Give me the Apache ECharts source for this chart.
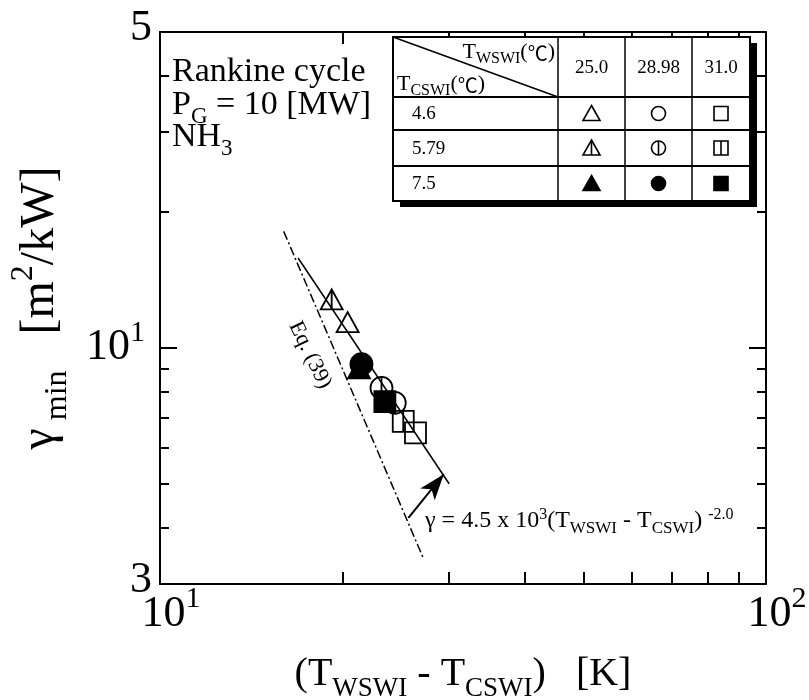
<!DOCTYPE html>
<html>
<head>
<meta charset="utf-8">
<script src="https://cdn.jsdelivr.net/npm/echarts@6/dist/echarts.min.js"></script>
<style>html,body{margin:0;background:#fff}#main{width:809px;height:700px}</style>
</head>
<body>
<div id="main"></div>
<script>
// columns / rows of the legend table
var twswi = ['25.0', '28.98', '31.0'];
var tcswi = ['4.6', '5.79', '7.5'];

// points: (Twswi - Tcswi) and gamma_min, one entry per Twswi column
var dT46 = [20.4, 24.4, 26.4];
var gam46 = [11.4, 7.55, 6.48];
var dT579 = [19.2, 23.2, 25.2];
var gam579 = [12.8, 8.15, 6.87];
var dT75 = [21.3, 21.5, 23.5];
var gam75 = [9.0, 9.2, 7.6];

// fitted line  gamma = 4.5e3 * dT^-2  (end points as drawn)
var fitDT = [16.9, 30.0];
var fitGam = [15.8, 5.0];
// Eq. (39) line (end points as drawn)
var eq39DT = [16.0, 27.2];
var eq39Gam = [18.1, 3.42];
// arrow pointing at the fitted line
var arrowFrom = [25.7, 4.2];
var arrowTo = [29.4, 5.25];

// ticks
var xMinorTicks = [20, 30, 40, 50, 60, 70, 80, 90];
var xLabelValues = [10, 100];
var xLabelTexts = ['{bl|10}{sup|1}', '{bl|10}{sup|2}'];
var yMinorTicks = [4, 5, 6, 7, 8, 9, 20, 30, 40];
var yMajorTicks = [10];
var yLabelValues = [3, 10, 50];
var yLabelTexts = ['{b|3}', '{b|10}{supr|1}', '{b|5}'];

var serif = '"Liberation Serif", "Times New Roman", "Noto Sans CJK JP", serif';

// symbol outlines for the plot
var P_TRI = 'path://M0,0L10,17L-10,17Z';
var P_TRI_L = 'path://M0,0L10,17L-10,17Z M0,0L0,17';
var P_CIR = 'circle';
var P_CIR_L = 'path://M-10,0A10,10,0,1,1,10,0A10,10,0,1,1,-10,0Z M0,-10L0,10';
var P_SQ = 'rect';
var P_SQ_L = 'path://M-10,-10L10,-10L10,10L-10,10Z M0,-10L0,10';

function rich(size, subSize, supSize, basePad, supPad) {
  return {
    b: {fontSize: size, fontFamily: serif, color: '#000', verticalAlign: 'bottom', padding: [0, 0, basePad, 0]},
    sub: {fontSize: subSize, fontFamily: serif, color: '#000', verticalAlign: 'bottom', padding: 0},
    sup: {fontSize: supSize, fontFamily: serif, color: '#000', verticalAlign: 'bottom', padding: [0, 0, supPad, 0]}
  };
}

function pickLabel(values, texts, v) {
  for (var i = 0; i < values.length; i++) {
    if (Math.abs(values[i] - v) < 1e-6 * values[i]) return texts[i];
  }
  return '';
}

function zip(xs, ys) {
  return xs.map(function (x, i) { return [x, ys[i]]; });
}

var axisLine = {show: true, lineStyle: {color: '#000', width: 2}};

var xTickRich = rich(44, 30, 30, 0, 22);
xTickRich.bl = {fontSize: 44, fontFamily: serif, color: '#000', verticalAlign: 'bottom', padding: [0, 0, 0, 22]};
var yTickRich = rich(44, 30, 30, 8, 30);
yTickRich.supr = {fontSize: 30, fontFamily: serif, color: '#000', verticalAlign: 'bottom', padding: [0, 7, 30, 0]};

function xAx(pos, labels) {
  return {
    type: 'log', logBase: 10, min: 10, max: 100, position: pos,
    axisLine: axisLine,
    axisTick: {show: true, inside: true, length: 12, customValues: xMinorTicks, lineStyle: {color: '#000', width: 2}},
    axisLabel: labels ? {
      show: true, margin: 0, customValues: xLabelValues,
      formatter: function (v) { return pickLabel(xLabelValues, xLabelTexts, v); },
      rich: xTickRich
    } : {show: false},
    splitLine: {show: false},
    minorTick: {show: false}
  };
}

function yAx(pos, ticks, len, labels) {
  return {
    type: 'log', logBase: 10, min: 3, max: 50, position: pos,
    axisLine: axisLine,
    axisTick: {show: true, inside: true, length: len, customValues: ticks, lineStyle: {color: '#000', width: 2}},
    axisLabel: labels ? {
      show: true, margin: 8, customValues: yLabelValues,
      formatter: function (v) { return pickLabel(yLabelValues, yLabelTexts, v); },
      rich: yTickRich
    } : {show: false},
    splitLine: {show: false}
  };
}

var xAxes = [xAx('bottom', true), xAx('top', false)];
xAxes[0].name = '{b|(T}{sub|WSWI}{b| - T}{sub|CSWI}{b|)   [K]}';
xAxes[0].nameLocation = 'middle';
xAxes[0].nameGap = 70;
xAxes[0].nameTextStyle = {rich: rich(40, 27, 27, 8, 26)};

var yAxes = [
  yAx('left', yMinorTicks, 9, true),
  yAx('left', yMajorTicks, 17, false),
  yAx('right', yMinorTicks, 9, false),
  yAx('right', yMajorTicks, 17, false)
];
yAxes[0].name = '{b|γ}{sub| min}{b|   [m}{sup|2}{b|/kW]}';
yAxes[0].nameLocation = 'middle';
yAxes[0].nameRotate = 90;
yAxes[0].nameGap = 86;
yAxes[0].nameTextStyle = {rich: rich(48, 32, 32, 10, 34)};

var open = 'rgba(0,0,0,0)';
function markSeries(name, sym, size, fill, xs, ys) {
  return {
    name: name, type: 'scatter', xAxisIndex: 0, yAxisIndex: 0,
    symbol: sym, symbolSize: size,
    itemStyle: {color: fill, borderColor: '#000', borderWidth: 1.8, opacity: 1},
    data: zip(xs, ys)
  };
}

var rowSyms = [
  [P_TRI, P_CIR, P_SQ],
  [P_TRI_L, P_CIR_L, P_SQ_L],
  [P_TRI, P_CIR, P_SQ]
];
var rowFill = [open, open, '#000'];
var rowDT = [dT46, dT579, dT75];
var rowGam = [gam46, gam579, gam75];
var plotSizes = [[22, 20], [22, 22], [21, 21]];

var series = [];
for (var r = 0; r < 3; r++) {
  for (var c = 0; c < 3; c++) {
    series.push(markSeries(tcswi[r] + '/' + twswi[c], rowSyms[r][c], plotSizes[c], rowFill[r],
      [rowDT[r][c]], [rowGam[r][c]]));
  }
}
series.push({
  name: 'fit', type: 'line', xAxisIndex: 0, yAxisIndex: 0, symbol: 'none',
  lineStyle: {color: '#000', width: 1.5},
  data: zip(fitDT, fitGam),
  markLine: {
    silent: true, symbol: ['none', 'arrow'], symbolSize: [14, 26],
    lineStyle: {color: '#000', width: 2, type: 'solid'},
    label: {show: false},
    data: [[{coord: arrowFrom}, {coord: arrowTo}]]
  }
});
series.push({
  name: 'Eq. (39)', type: 'line', xAxisIndex: 0, yAxisIndex: 0, symbol: 'none',
  lineStyle: {color: '#000', width: 1.5, type: [9, 3, 2, 3]},
  data: zip(eq39DT, eq39Gam)
});

// table symbols drawn with graphic primitives
function tableMark(col, row, cx, cy) {
  var fill = row === 2 ? '#000' : 'none';
  var st = {fill: fill, stroke: '#000', lineWidth: 1.6};
  var ls = {stroke: '#000', lineWidth: 1.6};
  var out = [];
  if (col === 0) {
    out.push({type: 'polygon', z: 103, shape: {points: [[cx, cy - 8], [cx + 8.5, cy + 7], [cx - 8.5, cy + 7]]}, style: st});
    if (row === 1) out.push({type: 'line', z: 104, shape: {x1: cx, y1: cy - 8, x2: cx, y2: cy + 7}, style: ls});
  } else if (col === 1) {
    out.push({type: 'circle', z: 103, shape: {cx: cx, cy: cy, r: 7}, style: st});
    if (row === 1) out.push({type: 'line', z: 104, shape: {x1: cx, y1: cy - 7, x2: cx, y2: cy + 7}, style: ls});
  } else {
    out.push({type: 'rect', z: 103, shape: {x: cx - 7, y: cy - 7, width: 14, height: 14}, style: st});
    if (row === 1) out.push({type: 'line', z: 104, shape: {x1: cx, y1: cy - 7, x2: cx, y2: cy + 7}, style: ls});
  }
  return out;
}

// legend table in the upper right corner
var tb = {x: [393, 558, 625, 692, 750], y: [37, 97, 130, 166, 201]};
var g = [];
g.push({type: 'rect', z: 100, shape: {x: tb.x[0] + 7, y: tb.y[0] + 6, width: tb.x[4] - tb.x[0], height: tb.y[4] - tb.y[0]}, style: {fill: '#000'}});
g.push({type: 'rect', z: 101, shape: {x: tb.x[0], y: tb.y[0], width: tb.x[4] - tb.x[0], height: tb.y[4] - tb.y[0]}, style: {fill: '#fff', stroke: '#000', lineWidth: 2}});
for (var i = 1; i < 4; i++) {
  g.push({type: 'line', z: 102, shape: {x1: tb.x[0], y1: tb.y[i], x2: tb.x[4], y2: tb.y[i]}, style: {stroke: '#000', lineWidth: 2}});
  g.push({type: 'line', z: 102, shape: {x1: tb.x[i], y1: tb.y[0], x2: tb.x[i], y2: tb.y[4]}, style: {stroke: '#000', lineWidth: 1.5}});
}
g.push({type: 'line', z: 102, shape: {x1: tb.x[0], y1: tb.y[0], x2: tb.x[1], y2: tb.y[1]}, style: {stroke: '#000', lineWidth: 1.5}});
var tRich = rich(22, 16, 16, 4, 10);
tRich.c = {fontSize: 20, fontFamily: '"Noto Sans CJK JP", serif', color: '#000', verticalAlign: 'bottom', padding: [0, 0, 4, 0]};
g.push({type: 'text', z: 103, x: 555, y: 54, style: {text: '{b|T}{sub|WSWI}{b|(}{c|℃}{b|)}', rich: tRich, align: 'right', verticalAlign: 'middle'}});
g.push({type: 'text', z: 103, x: 397, y: 86, style: {text: '{b|T}{sub|CSWI}{b|(}{c|℃}{b|)}', rich: tRich, align: 'left', verticalAlign: 'middle'}});
for (var c2 = 0; c2 < 3; c2++) {
  var cx = (tb.x[c2 + 1] + tb.x[c2 + 2]) / 2;
  g.push({type: 'text', z: 103, x: cx, y: 68, style: {text: twswi[c2], font: '19px ' + serif, fill: '#000', align: 'center', verticalAlign: 'middle'}});
  for (var r2 = 0; r2 < 3; r2++) {
    var cy = (tb.y[r2 + 1] + tb.y[r2 + 2]) / 2;
    g = g.concat(tableMark(c2, r2, cx, cy));
  }
}
for (var r3 = 0; r3 < 3; r3++) {
  g.push({type: 'text', z: 103, x: 412, y: (tb.y[r3 + 1] + tb.y[r3 + 2]) / 2 + 1, style: {text: tcswi[r3], font: '19px ' + serif, fill: '#000', align: 'left', verticalAlign: 'middle'}});
}

// notes in the plot
var nRich = rich(34, 23, 23, 6, 20);
g.push({type: 'text', z: 103, x: 172, y: 75, style: {text: '{b|Rankine cycle}', rich: nRich, verticalAlign: 'middle'}});
g.push({type: 'text', z: 103, x: 172, y: 108, style: {text: '{b|P}{sub|G}{b| = 10 [MW]}', rich: nRich, verticalAlign: 'middle'}});
g.push({type: 'text', z: 103, x: 172, y: 140, style: {text: '{b|NH}{sub|3}', rich: nRich, verticalAlign: 'middle'}});
g.push({type: 'text', z: 103, x: 425, y: 522, style: {text: '{b|γ = 4.5 x 10}{sup|3}{b|(T}{sub|WSWI}{b| - T}{sub|CSWI}{b|) }{sup|-2.0}', rich: rich(24, 17, 16, 4, 14), verticalAlign: 'middle'}});
g.push({type: 'text', z: 103, x: 310, y: 355, rotation: -64 * Math.PI / 180, style: {text: 'Eq. (39)', font: '22px ' + serif, fill: '#000', align: 'center', verticalAlign: 'middle'}});

var chart = echarts.init(document.getElementById('main'));
chart.setOption({
  animation: false,
  backgroundColor: '#fff',
  grid: {left: 160, right: 43, top: 32, bottom: 116, outerBoundsMode: 'none', containLabel: false},
  xAxis: xAxes,
  yAxis: yAxes,
  series: series,
  graphic: g
});
</script>
</body>
</html>
